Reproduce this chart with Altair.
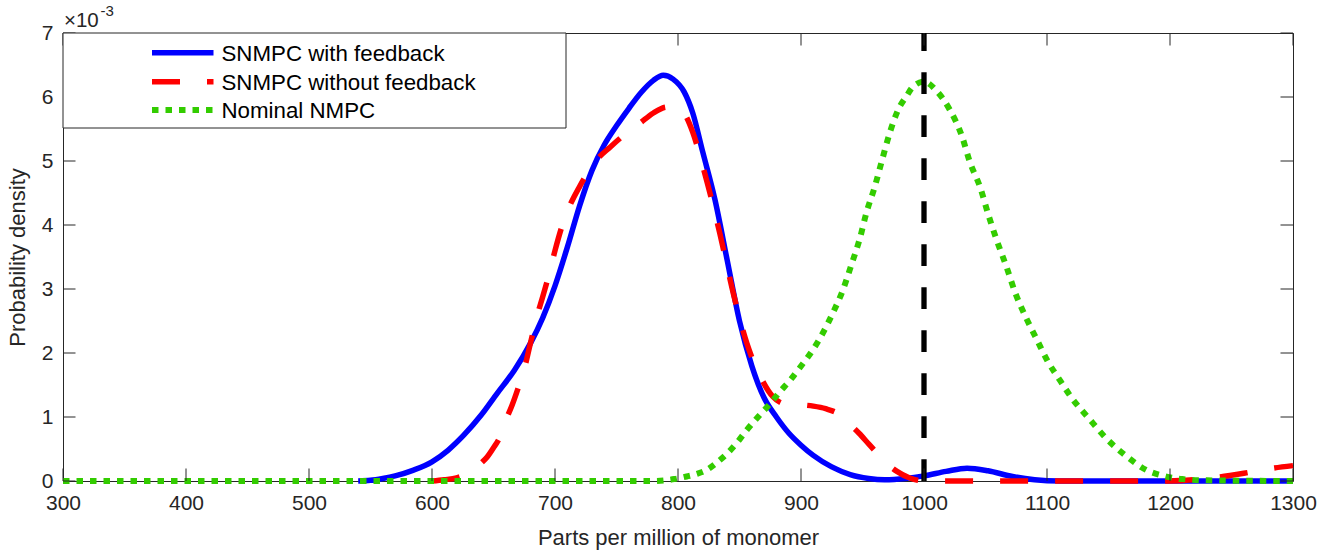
import altair as alt
import pandas as pd

# Plot-area size in pixels
W, H = 1230, 448

FONT = "Liberation Sans"
INK = "#262626"

# Probability density (x 10^-3) against parts per million of monomer
fb_ppm = [540, 550, 560, 570, 585, 600, 613, 626, 640, 653, 667, 680, 690, 700,
          710, 720, 730, 740, 750, 760, 770, 780, 788, 796, 805, 812, 820, 830,
          840, 850, 860, 870, 880, 890, 900, 910, 925, 940, 955, 968, 985, 1000,
          1018, 1035, 1052, 1072, 1090, 1110, 1300]
fb_density = [0.0, 0.01, 0.04, 0.08, 0.17, 0.30, 0.48, 0.72, 1.03, 1.37, 1.73, 2.15,
              2.55, 3.05, 3.65, 4.3, 4.85, 5.25, 5.55, 5.82, 6.07, 6.26, 6.34, 6.28,
              6.08, 5.75, 5.15, 4.4, 3.45, 2.5, 1.8, 1.3, 1.0, 0.75, 0.56, 0.4, 0.22,
              0.1, 0.04, 0.02, 0.04, 0.08, 0.15, 0.2, 0.16, 0.07, 0.02, 0.0, 0.0]

nofb_ppm = [600, 610, 620, 630, 640, 645, 650, 655, 660, 665, 670, 675, 680, 685,
            690, 695, 700, 706, 712, 720, 734, 745, 757, 769, 780, 790, 798, 805,
            812, 821, 834, 845, 856, 867, 877, 888, 900, 910, 920, 932, 940, 947,
            955, 962, 970, 978, 988, 1000, 1200, 1220, 1240, 1260, 1280, 1300]
nofb_density = [0.0, 0.02, 0.05, 0.13, 0.28, 0.38, 0.52, 0.68, 0.95, 1.18, 1.45, 1.75,
                2.15, 2.55, 2.88, 3.22, 3.6, 4.0, 4.3, 4.6, 5.02, 5.22, 5.42, 5.59,
                5.75, 5.84, 5.85, 5.75, 5.45, 4.86, 3.87, 2.93, 2.15, 1.63, 1.32, 1.2,
                1.19, 1.17, 1.13, 1.03, 0.88, 0.75, 0.58, 0.43, 0.27, 0.15, 0.05, 0.0,
                0.0, 0.02, 0.06, 0.12, 0.19, 0.24]

nom_ppm = [300, 780, 797, 807, 815, 823, 831, 840, 848, 856, 865, 875, 883, 891, 899,
           910, 918, 926, 934, 941, 948, 953, 960, 966, 972, 979, 986, 991, 1000,
           1010, 1021, 1031, 1037, 1046, 1052, 1059, 1067, 1074, 1083, 1092, 1100,
           1111, 1120, 1134, 1148, 1165, 1181, 1195, 1210, 1230, 1300]
nom_density = [0.0, 0.0, 0.03, 0.07, 0.11, 0.17, 0.28, 0.43, 0.6, 0.8, 1.0, 1.21, 1.40,
               1.57, 1.77, 2.06, 2.32, 2.63, 2.98, 3.38, 3.8, 4.18, 4.6, 5.02, 5.43,
               5.8, 6.02, 6.16, 6.24, 6.1, 5.8, 5.38, 5.0, 4.57, 4.18, 3.77, 3.35,
               2.95, 2.55, 2.2, 1.89, 1.56, 1.3, 0.98, 0.67, 0.38, 0.17, 0.08, 0.03,
               0.01, 0.0]

series_names = ["SNMPC with feedback", "SNMPC without feedback", "Nominal NMPC"]
target_ppm = [1000]
x_ticks = [300, 400, 500, 600, 700, 800, 900, 1000, 1100, 1200, 1300]
y_ticks = [0, 1, 2, 3, 4, 5, 6, 7]

xs = alt.Scale(domain=[300, 1300], nice=False, zero=False)
ys = alt.Scale(domain=[0, 7], nice=False, zero=True)

x_axis = alt.Axis(values=x_ticks, title="Parts per million of monomer", ticks=False,
                  tickSize=0, domain=False, grid=False, labelFontSize=21,
                  labelPadding=11, labelColor=INK, labelFont=FONT, titleFont=FONT,
                  titleFontSize=22, titleFontWeight="normal", titleColor=INK,
                  titlePadding=14, labelFlush=False, format="d")
y_axis = alt.Axis(values=y_ticks, title="Probability density", ticks=False,
                  tickSize=0, domain=False, grid=False, labelFontSize=21,
                  labelPadding=10, labelColor=INK, labelFont=FONT, titleFont=FONT,
                  titleFontSize=22, titleFontWeight="normal", titleColor=INK,
                  titlePadding=12, labelFlush=False, format="d")

X = alt.X("ppm:Q", scale=xs, axis=x_axis)
Y = alt.Y("density:Q", scale=ys, axis=y_axis)


def curve(xv, yv, color, width, dash=None):
    df = pd.DataFrame({"ppm": xv, "density": yv})
    kw = dict(color=color, strokeWidth=width, interpolate="monotone",
              strokeCap="butt", strokeJoin="round")
    if dash:
        kw["strokeDash"] = dash
    return alt.Chart(df).mark_line(**kw).encode(x=X, y=Y)


blue = "#0000FF"
red = "#FF0000"
green = "#33CC00"

fb = curve(fb_ppm, fb_density, blue, 5.5)
nofb = curve(nofb_ppm, nofb_density, red, 5.5, [28, 27])
nom = curve(nom_ppm, nom_density, green, 6, [6.5, 7])

# vertical dashed reference at the target concentration, drawn bottom-up
target_df = pd.DataFrame({"ppm": target_ppm})
target = alt.Chart(target_df).mark_rule(
    color="black", strokeWidth=5.3, strokeDash=[21.7, 21.3], strokeCap="butt"
).encode(x=X, y=alt.datum(0, scale=ys), y2=alt.datum(7))

# inward ticks on all four sides
TL = 12.5
xt_df = pd.DataFrame({"ppm": x_ticks})
yt_df = pd.DataFrame({"density": y_ticks})
tick_style = dict(color=INK, strokeWidth=1)
ticks_bottom = alt.Chart(xt_df).mark_rule(**tick_style).encode(
    x=X, y=alt.value(H), y2=alt.value(H - TL))
ticks_top = alt.Chart(xt_df).mark_rule(**tick_style).encode(
    x=X, y=alt.value(0), y2=alt.value(TL))
ticks_left = alt.Chart(yt_df).mark_rule(**tick_style).encode(
    y=Y, x=alt.value(0), x2=alt.value(TL))
ticks_right = alt.Chart(yt_df).mark_rule(**tick_style).encode(
    y=Y, x=alt.value(W), x2=alt.value(W - TL))

# exponent note above the y axis
one = pd.DataFrame({"k": [0]})
exp_base = alt.Chart(one).mark_text(
    text="\u00d710", font=FONT, fontSize=20.5, color=INK, align="left",
    baseline="alphabetic").encode(x=alt.value(1), y=alt.value(-6))
exp_pow = alt.Chart(one).mark_text(
    text="-3", font=FONT, fontSize=15, color=INK, align="left",
    baseline="alphabetic").encode(x=alt.value(37.5), y=alt.value(-17))

# legend box in the upper-left corner
LX0, LX1, LY0, LY1 = 0, 503, 0, 95
legend_box = alt.Chart(one).mark_rect(
    fill="white", stroke=INK, strokeWidth=1).encode(
    x=alt.value(LX0), x2=alt.value(LX1), y=alt.value(LY0), y2=alt.value(LY1))

row_y = [19.7, 48.7, 77.0]
styles = [
    dict(color=blue, strokeWidth=5.5),
    dict(color=red, strokeWidth=5.5, strokeDash=[28, 27]),
    dict(color=green, strokeWidth=6, strokeDash=[6.5, 7]),
]
legend_layers = []
for name, ry, st in zip(series_names, row_y, styles):
    d = pd.DataFrame({"series": [name]})
    legend_layers.append(
        alt.Chart(d).mark_rule(strokeCap="butt", **st).encode(
            x=alt.value(89), x2=alt.value(150.5), y=alt.value(ry), y2=alt.value(ry)))
    legend_layers.append(
        alt.Chart(d).mark_text(font=FONT, fontSize=22.3, color="black", align="left",
                               baseline="alphabetic").encode(
            text="series:N", x=alt.value(158.5), y=alt.value(ry + 8)))

chart = alt.layer(
    fb, nofb, nom, target,
    ticks_bottom, ticks_top, ticks_left, ticks_right,
    legend_box, *legend_layers, exp_base, exp_pow,
).properties(
    width=W, height=H,
    autosize=alt.AutoSizeParams(type="none"),
    padding={"left": 63, "top": 33, "right": 40, "bottom": 73},
    background="white",
).configure_view(stroke=INK, strokeWidth=1)

chart.save("out.html", embed_options={"renderer": "svg", "actions": False})
